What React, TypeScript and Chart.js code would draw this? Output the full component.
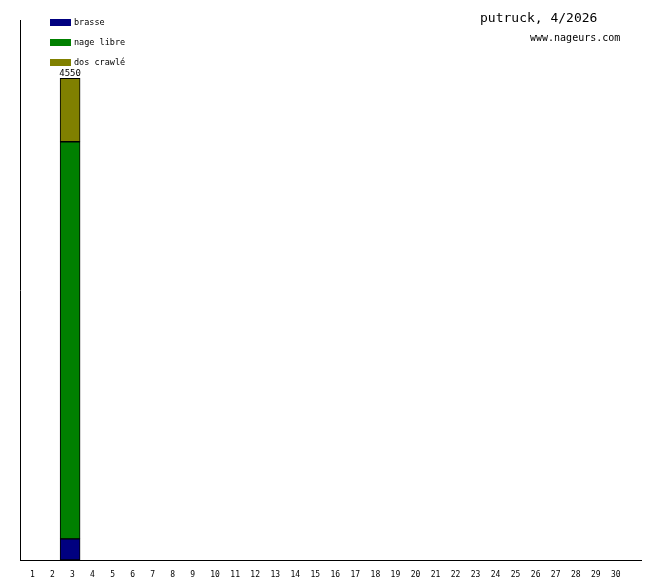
import React, { useEffect, useRef } from "react";
import { Chart, registerables } from "chart.js";

Chart.register(...registerables);

const days: string[] = Array.from({ length: 30 }, (_, i) => String(i + 1)).concat([""]);
const brasse: number[] = [0, 0, 200, 0, 0, 0, 0, 0, 0, 0, 0, 0, 0, 0, 0, 0, 0, 0, 0, 0, 0, 0, 0, 0, 0, 0, 0, 0, 0, 0, 0];
const nageLibre: number[] = [0, 0, 3750, 0, 0, 0, 0, 0, 0, 0, 0, 0, 0, 0, 0, 0, 0, 0, 0, 0, 0, 0, 0, 0, 0, 0, 0, 0, 0, 0, 0];
const dosCrawle: number[] = [0, 0, 600, 0, 0, 0, 0, 0, 0, 0, 0, 0, 0, 0, 0, 0, 0, 0, 0, 0, 0, 0, 0, 0, 0, 0, 0, 0, 0, 0, 0];
const seriesNames = ["brasse", "nage libre", "dos crawlé"];
const seriesColors = ["#000080", "#008000", "#808000"];
const titleText = "putruck, 4/2026";
const subtitleText = "www.nageurs.com";
const yMax = 5100;

const MONO = "'DejaVu Sans Mono', 'Liberation Mono', monospace";

const overlayPlugin = {
  id: "overlay",
  afterDraw(chart: any) {
    const ctx = chart.ctx;
    ctx.save();
    seriesNames.forEach((name, i) => {
      const y = 19 + i * 20;
      ctx.fillStyle = seriesColors[i];
      ctx.fillRect(50, y, 21, 7);
      ctx.fillStyle = "#000";
      ctx.font = `8.5px ${MONO}`;
      ctx.textAlign = "left";
      ctx.textBaseline = "middle";
      ctx.fillText(name, 74, y + 4);
    });
    ctx.fillStyle = "#000";
    ctx.font = `13px ${MONO}`;
    ctx.textAlign = "left";
    ctx.textBaseline = "middle";
    ctx.fillText(titleText, 480, 19);
    ctx.font = `10px ${MONO}`;
    ctx.fillText(subtitleText, 530, 38);
    const xs = chart.scales.x;
    const ys = chart.scales.y;
    ctx.font = `9px ${MONO}`;
    ctx.textAlign = "center";
    ctx.textBaseline = "bottom";
    for (let i = 0; i < days.length; i++) {
      const total = brasse[i] + nageLibre[i] + dosCrawle[i];
      if (total > 0) {
        ctx.fillText(String(total), xs.getPixelForValue(i), ys.getPixelForValue(total));
      }
    }
    ctx.restore();
  },
};

export default function App() {
  const ref = useRef<HTMLCanvasElement>(null);
  useEffect(() => {
    document.body.style.margin = "0";
    const mk = (label: string, data: number[], color: string) => ({
      label,
      data,
      backgroundColor: color,
      borderColor: "#000",
      borderWidth: 1,
      borderSkipped: false,
      barThickness: 20,
    });
    const chart = new Chart(ref.current!, {
      type: "bar",
      data: {
        labels: days,
        datasets: [
          mk(seriesNames[0], brasse, seriesColors[0]),
          mk(seriesNames[1], nageLibre, seriesColors[1]),
          mk(seriesNames[2], dosCrawle, seriesColors[2]),
        ],
      },
      options: {
        animation: false,
        responsive: false,
        maintainAspectRatio: false,
        layout: { padding: { top: 20, right: 19, left: 0, bottom: 0 } },
        plugins: { legend: { display: false }, tooltip: { enabled: false }, title: { display: false } },
        scales: {
          x: {
            stacked: true,
            offset: true,
            grid: { display: false, drawTicks: false },
            border: { display: true, color: "#000", width: 1 },
            ticks: {
              align: "start",
              maxRotation: 0,
              autoSkip: false,
              color: "#000",
              font: { family: MONO, size: 8 },
              padding: 10,
            },
            afterFit(scale: any) {
              scale.height = 20;
            },
          },
          y: {
            stacked: true,
            min: 0,
            max: yMax,
            grid: { display: false, drawTicks: false },
            border: { display: true, color: "#000", width: 1 },
            ticks: { display: false },
            afterFit(scale: any) {
              scale.width = 20;
            },
          },
        },
      } as any,
      plugins: [overlayPlugin],
    });
    return () => chart.destroy();
  }, []);
  return <canvas ref={ref} width={660} height={580} style={{ display: "block" }} />;
}
